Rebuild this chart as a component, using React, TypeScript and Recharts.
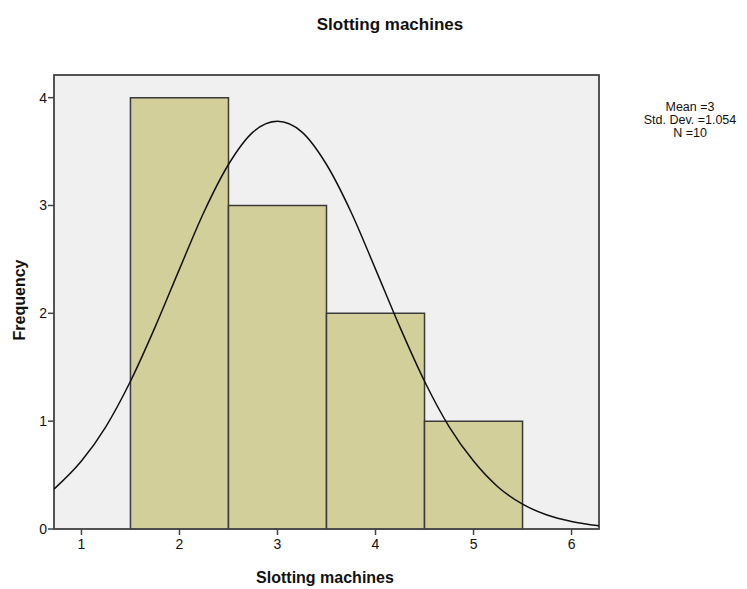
import { ComposedChart, Line, XAxis, YAxis, ReferenceArea } from "recharts";

const binStart = [1.5, 2.5, 3.5, 4.5];
const binEnd = [2.5, 3.5, 4.5, 5.5];
const frequencies = [4, 3, 2, 1];

const curveX = [0.72, 1, 1.25, 1.5, 1.75, 2, 2.25, 2.5, 2.75, 3, 3.25, 3.5, 3.75, 4, 4.25, 4.5, 4.75, 5, 5.25, 5.5, 5.75, 6, 6.28];
const curveY = [0.37, 0.63, 0.95, 1.37, 1.87, 2.41, 2.94, 3.38, 3.68, 3.78, 3.68, 3.38, 2.94, 2.41, 1.87, 1.37, 0.95, 0.63, 0.39, 0.23, 0.13, 0.07, 0.03];

const xTicks = [1, 2, 3, 4, 5, 6];
const yTicks = [0, 1, 2, 3, 4];
const statLines = ["Mean =3", "Std. Dev. =1.054", "N =10"];

const curve = curveX.map((x, i) => ({ x, y: curveY[i] }));

const FONT = "'Liberation Sans', Arial, sans-serif";
const X_MIN = 0.72;
const X_MAX = 6.28;
const Y_MAX = 4.21;

export default function App() {
  return (
    <div style={{ position: "absolute", left: 0, top: 0, width: 747, height: 589, background: "#fff", fontFamily: FONT }}>
      <div style={{ position: "absolute", left: 290, width: 200, top: 15, textAlign: "center", fontSize: 17, fontWeight: "bold", color: "#111" }}>
        Slotting machines
      </div>
      <ComposedChart width={747} height={589} data={curve} margin={{ top: 75, right: 148, bottom: 30, left: 24 }}>
        <XAxis
          dataKey="x"
          type="number"
          domain={[X_MIN, X_MAX]}
          ticks={xTicks}
          allowDataOverflow
          height={30}
          axisLine={false}
          tickLine={{ stroke: "#444", strokeWidth: 1.5 }}
          tickSize={6}
          tickMargin={4}
          tick={{ fill: "#111", fontSize: 14, fontFamily: FONT }}
        />
        <YAxis
          type="number"
          domain={[0, Y_MAX]}
          ticks={yTicks}
          allowDataOverflow
          width={30}
          axisLine={false}
          tickLine={{ stroke: "#444", strokeWidth: 1.5 }}
          tickSize={6}
          tickMargin={1}
          tick={{ fill: "#111", fontSize: 14, fontFamily: FONT }}
        />
        <ReferenceArea x1={X_MIN} x2={X_MAX} y1={0} y2={Y_MAX} fill="#f0f0f0" fillOpacity={1} stroke="#4a4a4a" strokeWidth={1.5} />
        {frequencies.map((f, i) => (
          <ReferenceArea
            key={i}
            x1={binStart[i]}
            x2={binEnd[i]}
            y1={0}
            y2={f}
            fill="#d3cf9b"
            fillOpacity={1}
            stroke="#3a3a3a"
            strokeWidth={1.5}
          />
        ))}
        <ReferenceArea x1={X_MIN} x2={X_MAX} y1={0} y2={Y_MAX} fill="none" stroke="#4a4a4a" strokeWidth={1.5} />
        <Line
          dataKey="y"
          type="monotone"
          stroke="#111"
          strokeWidth={1.5}
          dot={false}
          activeDot={false}
          isAnimationActive={false}
        />
      </ComposedChart>
      <div
        style={{
          position: "absolute",
          left: 20,
          top: 300,
          transform: "translate(-50%, -50%) rotate(-90deg)",
          fontSize: 16,
          fontWeight: "bold",
          color: "#111",
          whiteSpace: "nowrap",
        }}
      >
        Frequency
      </div>
      <div style={{ position: "absolute", left: 225, width: 200, top: 569, textAlign: "center", fontSize: 16, fontWeight: "bold", color: "#111" }}>
        Slotting machines
      </div>
      <div style={{ position: "absolute", left: 620, width: 140, top: 101, textAlign: "center", fontSize: 12.5, lineHeight: "13px", color: "#111" }}>
        {statLines.map((s) => (
          <div key={s}>{s}</div>
        ))}
      </div>
    </div>
  );
}
